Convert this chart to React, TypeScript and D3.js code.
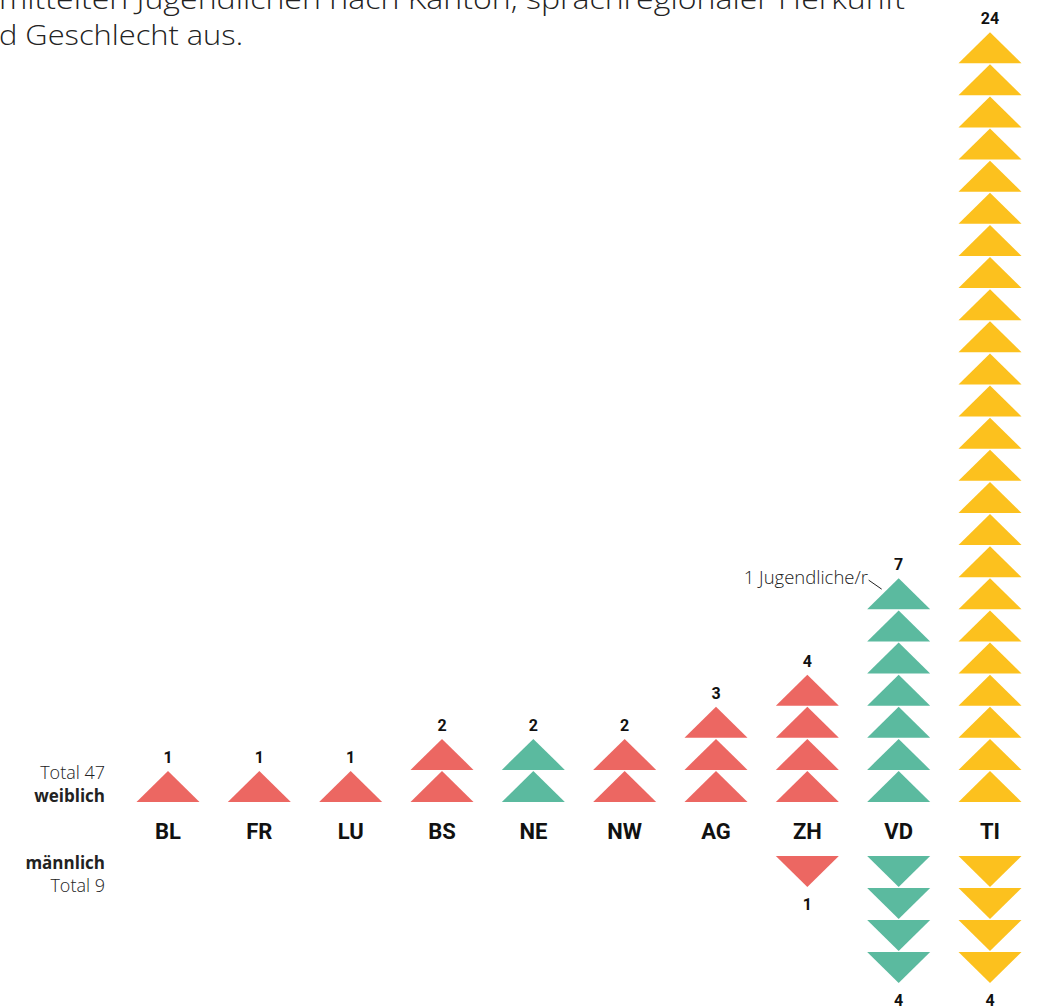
import React from "react";
import * as d3 from "d3";

const cantons = ["BL", "FR", "LU", "BS", "NE", "NW", "AG", "ZH", "VD", "TI"];
const female = [1, 1, 1, 2, 2, 2, 3, 4, 7, 24];
const male = [0, 0, 0, 0, 0, 0, 0, 1, 4, 4];
const region = ["de", "de", "de", "de", "fr", "de", "de", "de", "fr", "it"];
const regionKeys = ["de", "fr", "it"];
const regionColors = ["#EC6762", "#5BBA9F", "#FCC11E"];
const titleLine1Hidden = "Die Grafik zeigt die Anzahl der er";
const titleLine1Visible = "mittelten Jugendlichen nach Kanton, sprachregionaler Herkunft";
const titleLine2Hidden = "un";
const titleLine2Visible = "d Geschlecht aus.";
const totalFemale = 47;
const totalMale = 9;

const W = 1038;
const H = 1008;
const FONT = "'Open Sans', Roboto, sans-serif";
const FONT_B = "Roboto, 'Open Sans', sans-serif";

export default function App() {
  const x = d3.scalePoint<string>().domain(cantons).range([168, 990]);
  const yF = d3.scaleLinear().domain([0, 24]).range([802, 31]);
  const yM = d3.scaleLinear().domain([0, 4]).range([856, 984]);
  const color = d3.scaleOrdinal<string, string>().domain(regionKeys).range(regionColors);
  const half = 31.5;
  const th = 31;

  const upTri = (cx: number, bottom: number) => {
    const p = d3.path();
    p.moveTo(cx - half, bottom);
    p.lineTo(cx + half, bottom);
    p.lineTo(cx, bottom - th);
    p.closePath();
    return p.toString();
  };
  const downTri = (cx: number, top: number) => {
    const p = d3.path();
    p.moveTo(cx - half, top);
    p.lineTo(cx + half, top);
    p.lineTo(cx, top + th);
    p.closePath();
    return p.toString();
  };

  const vdx = x("VD")!;
  const vdTop = yF(7);

  return (
    <svg
      width={W}
      height={H}
      style={{ position: "absolute", left: 0, top: 0, background: "#fff" }}
      fontFamily={FONT}
    >
      <g fontSize={27} fontWeight={300} fill="#222">
        <text x={-2} y={9} textAnchor="end">{titleLine1Hidden}</text>
        <text x={-1} y={9} textLength={906} lengthAdjust="spacingAndGlyphs">{titleLine1Visible}</text>
        <text x={-2} y={45} textAnchor="end">{titleLine2Hidden}</text>
        <text x={-1} y={45} textLength={244} lengthAdjust="spacingAndGlyphs">{titleLine2Visible}</text>
      </g>

      {cantons.map((c, i) => {
        const cx = x(c)!;
        const col = color(region[i]);
        return (
          <g key={c}>
            {d3.range(female[i]).map((k) => (
              <path key={"f" + k} d={upTri(cx, yF(k))} fill={col} />
            ))}
            <text
              x={cx}
              y={yF(female[i]) - 7}
              textAnchor="middle"
              fontSize={16}
              fontWeight={700}
              fontFamily={FONT_B}
              fill="#111"
            >
              {female[i]}
            </text>
            <text
              x={cx}
              y={839}
              textAnchor="middle"
              fontSize={22}
              fontWeight={700}
              fontFamily={FONT_B}
              fill="#111"
            >
              {c}
            </text>
            {d3.range(male[i]).map((k) => (
              <path key={"m" + k} d={downTri(cx, yM(k))} fill={col} />
            ))}
            {male[i] > 0 && (
              <text
                x={cx}
                y={yM(male[i]) + 22}
                textAnchor="middle"
                fontSize={16}
                fontWeight={700}
                fontFamily={FONT_B}
                fill="#111"
              >
                {male[i]}
              </text>
            )}
          </g>
        );
      })}

      <g fontSize={17} textAnchor="end" fill="#222">
        <text x={105} y={779} fontWeight={300} fontSize={18}>Total {totalFemale}</text>
        <text x={105} y={802} fontWeight={700}>weiblich</text>
        <text x={105} y={869} fontWeight={700}>männlich</text>
        <text x={105} y={892} fontWeight={300} fontSize={18}>Total {totalMale}</text>
      </g>

      <g>
        <text x={868} y={584} textAnchor="end" fontSize={18.5} fontWeight={300} fill="#222">
          1 Jugendliche/r
        </text>
        <line
          x1={vdx - 30}
          y1={vdTop + 3}
          x2={vdx - 17}
          y2={vdTop + 12}
          stroke="#222"
          strokeWidth={1}
        />
      </g>
    </svg>
  );
}
